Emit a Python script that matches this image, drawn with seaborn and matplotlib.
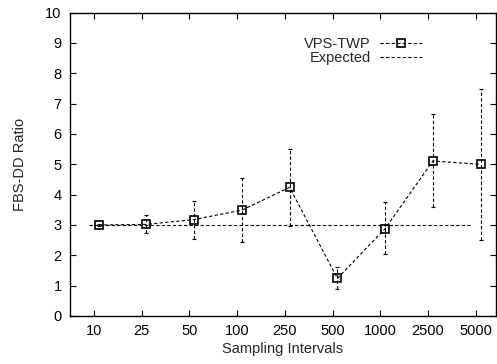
import numpy as np
import pandas as pd
import matplotlib
matplotlib.use("Agg")
import matplotlib.pyplot as plt
import seaborn as sns

categories = ["10", "25", "50", "100", "250", "500", "1000", "2500", "5000"]
vps_twp = [3.00, 3.02, 3.18, 3.49, 4.24, 1.24, 2.88, 5.11, 5.00]
err_low = [2.98, 2.72, 2.53, 2.43, 2.97, 0.89, 2.04, 3.60, 2.50]
err_high = [3.02, 3.33, 3.79, 4.55, 5.52, 1.61, 3.76, 6.67, 7.49]
expected = [3, 3, 3, 3, 3, 3, 3, 3, 3]
y_ticks = [0, 1, 2, 3, 4, 5, 6, 7, 8, 9, 10]

sns.set_style("ticks")
plt.rcParams['font.family'] = ['Liberation Sans', 'DejaVu Sans']

fig = plt.figure(figsize=(4.97, 3.64), dpi=100)
ax = fig.add_axes([0.1408, 0.1319, 0.857, 0.8333])

pos = np.arange(len(categories))
df = pd.DataFrame({"x": pos + 0.1, "y": vps_twp, "series": "VPS-TWP"})
df_exp = pd.DataFrame({"x": pos - 0.1, "y": expected, "series": "Expected"})

sns.lineplot(data=df_exp, x="x", y="y", ax=ax, color="black", lw=0.8,
             linestyle=(0, (3, 2)), label="Expected", sort=False)
sns.lineplot(data=df, x="x", y="y", ax=ax, color="black", lw=0.8,
             linestyle=(0, (3, 2)), marker="s", markersize=5.5,
             markerfacecolor="none", markeredgecolor="black",
             markeredgewidth=1.2, label="VPS-TWP", sort=False)

yerr = np.array([np.array(vps_twp) - np.array(err_low),
                 np.array(err_high) - np.array(vps_twp)])
eb = ax.errorbar(pos + 0.1, vps_twp, yerr=yerr, fmt="none", ecolor="black",
                 elinewidth=0.8, capsize=1.5, capthick=0.8)
for lc in eb[2]:
    lc.set_linestyle((0, (3, 2)))

ax.set_xlim(-0.5, 8.42)
ax.set_ylim(0, 10)
ax.set_xticks(pos)
ax.set_xticklabels(categories)
ax.set_yticks(y_ticks)
ax.tick_params(direction="in", top=True, right=True, length=4, width=0.8,
               labelsize=10.5, pad=6, colors="black")
for s in ax.spines.values():
    s.set_linewidth(1.0)
    s.set_color("black")
ax.set_xlabel("Sampling Intervals", fontsize=10.5, labelpad=3)
ax.set_ylabel("FBS-DD Ratio", fontsize=10.5, labelpad=13)

handles, labels = ax.get_legend_handles_labels()
order = [labels.index("VPS-TWP"), labels.index("Expected")]
leg = ax.legend([handles[i] for i in order], [labels[i] for i in order],
                loc="upper right", bbox_to_anchor=(0.84, 0.94), frameon=False,
                markerfirst=False, fontsize=10.5, handlelength=2.9,
                labelspacing=0.0, handletextpad=0.6, borderaxespad=0)

fig.savefig("out.png", dpi=100)
